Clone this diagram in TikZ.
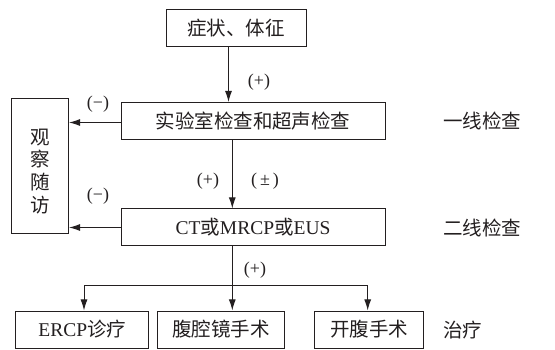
\documentclass[tikz,border=0pt]{standalone}
\usepackage{fontspec}
\setmainfont{Liberation Serif}
\newfontfamily\cjk{Noto Sans CJK SC}
\usetikzlibrary{arrows.meta}
\definecolor{ink}{HTML}{231F20}
\begin{document}
\begin{tikzpicture}[x=1pt,y=-1pt,
  box/.style={draw=ink,line width=1pt,minimum height=37pt,inner sep=0pt,text=ink,font=\fontsize{19.5}{21}\selectfont},
  lab/.style={text=ink,font=\fontsize{18}{20}\selectfont,inner sep=0pt},
  side/.style={text=ink,font=\fontsize{19.5}{21}\cjk,anchor=west,inner sep=0pt},
  conn/.style={draw=ink,line width=1pt},
  arr/.style={conn,-{Latex[length=11pt,width=7pt]}}]
\useasboundingbox (0,0) rectangle (555,350);
\node[box,minimum width=140pt] (b1) at (236,28.5) {\cjk 症状、体征};
\node[box,minimum width=264pt] (b2) at (253,121) {\cjk 实验室检查和超声检查};
\node[box,minimum width=264pt] (b3) at (253,227.5) {CT{\cjk 或}MRCP{\cjk 或}EUS};
\node[box,minimum width=57pt,minimum height=135pt] (obs) at (40,166)
  {\cjk\begin{tabular}{@{}c@{}}\\[-6pt]观\\[0pt]察\\[0pt]随\\[0pt]访\end{tabular}};
\node[box,minimum width=133pt] (ba) at (82.3,329.5) {ERCP{\cjk 诊疗}};
\node[box,minimum width=127pt] (bb) at (221,329.5) {\cjk 腹腔镜手术};
\node[box,minimum width=109pt] (bc) at (369,329.5) {\cjk 开腹手术};
\node[side] (s1) at (443,121) {一线检查};
\node[side] (s2) at (443,228) {二线检查};
\node[side] (s3) at (443,330) {治疗};
\node[lab] (l1) at (259,82) {(+)};
\node[lab] (l2) at (98,104) {(−)};
\node[lab] (l3) at (208,181) {(+)};
\node[lab] (l4) at (265,181) {(\,±\,)};
\node[lab] (l5) at (98,196) {(−)};
\node[lab] (l6) at (255,270) {(+)};
\coordinate (bl) at (84,286);
\coordinate (bm) at (232.3,286);
\coordinate (br) at (367.7,286);
\draw[arr] ([xshift=-7.5pt]b1.south) -- ([xshift=-7.5pt]b1.south |- b2.north);
\draw[arr] ([yshift=-1.5pt]b2.west) -- ([yshift=-1.5pt]b2.west -| obs.east);
\draw[arr] ([xshift=-20.7pt]b2.south) -- ([xshift=-20.7pt]b2.south |- b3.north);
\draw[arr] (b3.west) -- (b3.west -| obs.east);
\draw[conn] (bm |- b3.south) -- (bm);
\draw[conn] (bl) -- (br);
\draw[arr] (bl) -- (bl |- ba.north);
\draw[arr] (bm) -- (bm |- bb.north);
\draw[arr] (br) -- (br |- bc.north);
\end{tikzpicture}
\end{document}
